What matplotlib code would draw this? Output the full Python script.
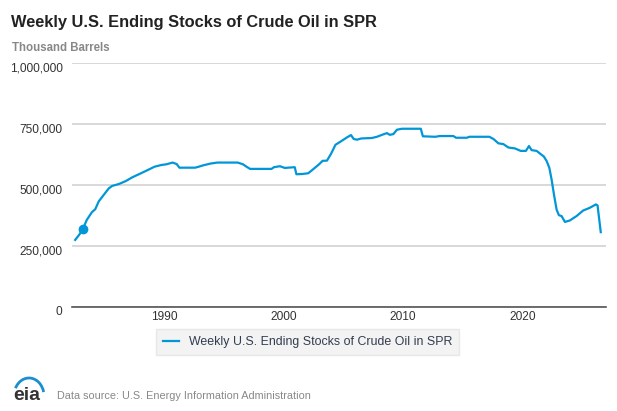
import numpy as np
import matplotlib
matplotlib.use("Agg")
import matplotlib.pyplot as plt
import matplotlib.transforms as mtransforms
from matplotlib.patches import Arc

title = "Weekly U.S. Ending Stocks of Crude Oil in SPR"
unit_label = "Thousand Barrels"
series_name = "Weekly U.S. Ending Stocks of Crude Oil in SPR"
source_text = "Data source: U.S. Energy Information Administration"

# decimal year, thousand barrels
years = [1982.55, 1982.9, 1983.2, 1983.52, 1983.95, 1984.23, 1984.52, 1984.94, 1985.37,
         1985.65, 1986.22, 1986.79, 1987.36, 1987.93, 1988.49, 1989.2, 1989.77, 1990.2,
         1990.71, 1991.05, 1991.28, 1991.9, 1992.6, 1992.9, 1993.3, 1993.9, 1994.46,
         1996.16, 1996.6, 1996.9, 1997.2, 1999.0, 1999.2, 1999.7, 2000.1, 2000.94,
         2001.08, 2001.56, 2002.07, 2002.47, 2002.98, 2003.27, 2003.64, 2003.98,
         2004.35, 2004.9, 2005.3, 2005.65, 2005.88, 2006.16, 2006.5, 2007.4, 2007.83,
         2008.25, 2008.66, 2008.9, 2009.2, 2009.5, 2009.92, 2011.5, 2011.67, 2012.7,
         2013.1, 2014.23, 2014.45, 2015.35, 2015.57, 2017.24, 2017.58, 2018.0, 2018.41,
         2018.83, 2019.39, 2019.86, 2020.3, 2020.56, 2020.78, 2021.2, 2021.48, 2021.8,
         2022.03, 2022.26, 2022.45, 2022.65, 2022.87, 2023.06, 2023.29, 2023.57,
         2023.98, 2024.54, 2025.1, 2025.65, 2026.16, 2026.3, 2026.57]
stocks = [274, 296, 319, 356, 388, 400, 432, 459, 486,
          496, 504, 516, 532, 545, 558, 575, 582, 585,
          592, 586, 571, 571, 571, 575, 581, 588, 592,
          592, 585, 575, 566, 566, 573, 577, 570, 573,
          544, 545, 548, 564, 585, 599, 600, 628,
          665, 682, 695, 705, 689, 686, 691, 693, 698,
          706, 713, 706, 709, 727, 731, 731, 700, 698,
          701, 701, 694, 694, 698, 698, 689, 671, 668,
          654, 650, 640, 640, 660, 643, 640, 629, 617,
          599, 571, 523, 461, 399, 376, 372, 348,
          354, 372, 395, 406, 420, 416, 306]
dot_year, dot_value = 1983.2, 319

y_ticks = [0, 250000, 500000, 750000, 1000000]
x_ticks = [1990, 2000, 2010, 2020]

line_color = "#0096d7"
plt.rcParams["font.family"] = ["Liberation Sans", "DejaVu Sans"]

fig = plt.figure(figsize=(6.17, 4.11), dpi=100)
ax = fig.add_axes([0.116, 0.254, 0.866, 0.592])

vals = np.array(stocks) * 1000
ax.plot(years, vals, color=line_color, lw=1.6, solid_joinstyle="round", zorder=3)
ax.plot([dot_year], [dot_value * 1000], "o", color=line_color, ms=6, zorder=4)

ax.set_xlim(1982.25, 2027.0)
ax.set_ylim(0, 1000000)
ax.set_yticks(y_ticks)
ax.set_yticklabels([f"{v:,}" for v in y_ticks])
ax.set_xticks(x_ticks)
ax.set_xticklabels([str(x) for x in x_ticks])
ax.tick_params(axis="both", length=0, labelsize=8.6, colors="#333333")
ax.tick_params(axis="y", pad=6.5)
ax.tick_params(axis="x", pad=3.5)
offset = mtransforms.ScaledTranslation(0, -3 / 72, fig.dpi_scale_trans)
for lab in ax.get_yticklabels():
    lab.set_transform(lab.get_transform() + offset)

ax.grid(axis="y", color="#d6d6d6", lw=1.3)
ax.set_axisbelow(True)
for side in ["top", "right", "left"]:
    ax.spines[side].set_visible(False)
ax.spines["bottom"].set_color("#555555")
ax.spines["bottom"].set_linewidth(1.2)

fig.text(11 / 617, 1 - 27 / 411, title, fontsize=11.8, fontweight="bold",
         color="#222222", va="baseline")
fig.text(12 / 617, 1 - 51 / 411, unit_label, fontsize=8.3, fontweight="bold",
         color="#888888", va="baseline")

leg = ax.legend([plt.Line2D([], [], color=line_color, lw=1.6)], [series_name],
                loc="center", bbox_to_anchor=((308 - 71.7) / 534.3, (306.7 - 342) / 243.4),
                frameon=True, fontsize=8.9, handlelength=1.3, handletextpad=0.8,
                borderpad=0.55, fancybox=False)
leg.get_frame().set_facecolor("#f0f0f0")
leg.get_frame().set_edgecolor("#e4e4e4")
for t in leg.get_texts():
    t.set_color("#333d4f")

# eia logo
fig.text(13 / 617, 1 - 400 / 411, "eia", fontsize=14, fontweight="bold",
         color="#333333", va="baseline")
logo_ax = fig.add_axes([0, 0, 1, 1], facecolor="none")
logo_ax.set_xlim(0, 617)
logo_ax.set_ylim(0, 411)
logo_ax.axis("off")
logo_ax.add_patch(Arc((29, 411 - 396), 30, 36, theta1=15, theta2=150,
                      color="#1a8fd0", lw=2.0))

fig.text(57 / 617, 1 - 399 / 411, source_text, fontsize=7.8, color="#888888",
         va="baseline")

fig.savefig("out.png", dpi=100)
